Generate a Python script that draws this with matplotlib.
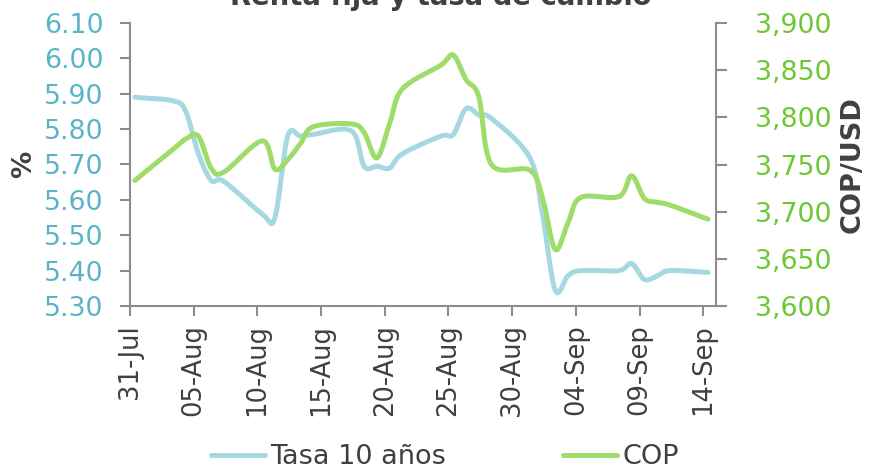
import numpy as np
import pandas as pd
import matplotlib
matplotlib.use("Agg")
import matplotlib.pyplot as plt
import matplotlib.dates as mdates
from matplotlib.ticker import StrMethodFormatter, FixedLocator

plt.rcParams['font.family'] = ['DejaVu Sans']

dates = ["2020-07-31", "2020-08-03", "2020-08-04", "2020-08-05", "2020-08-06", "2020-08-07",
         "2020-08-10", "2020-08-11", "2020-08-12", "2020-08-13", "2020-08-14",
         "2020-08-17", "2020-08-18", "2020-08-19", "2020-08-20", "2020-08-21",
         "2020-08-24", "2020-08-25", "2020-08-26", "2020-08-27", "2020-08-28",
         "2020-08-31", "2020-09-01", "2020-09-02", "2020-09-03", "2020-09-04",
         "2020-09-07", "2020-09-08", "2020-09-09", "2020-09-10", "2020-09-11",
         "2020-09-14"]

tasa_10 = [5.89, 5.88, 5.85, 5.73, 5.655, 5.652,
           5.56, 5.55, 5.78, 5.78, 5.785,
           5.795, 5.695, 5.695, 5.69, 5.73,
           5.78, 5.785, 5.858, 5.84, 5.83,
           5.72, 5.56, 5.345, 5.385, 5.40,
           5.40, 5.42, 5.375, 5.385, 5.40,
           5.395]

cop = [3733, 3766, 3777, 3780, 3746, 3742,
       3775, 3745, 3755, 3772, 3790,
       3793, 3784, 3757, 3793, 3830,
       3855, 3866, 3840, 3822, 3750,
       3744, 3715, 3660, 3688, 3715,
       3716, 3738, 3714, 3710, 3707,
       3692]

title = "Renta fija y tasa de cambio"
left_label = "%"
right_label = "COP/USD"
series_names = ["Tasa 10 años", "COP"]
left_ticks = [5.30, 5.40, 5.50, 5.60, 5.70, 5.80, 5.90, 6.00, 6.10]
right_ticks = [3600, 3650, 3700, 3750, 3800, 3850, 3900]

blue = '#a6d8e2'
green = '#a0dc6c'
blue_txt = '#5ab4c8'
green_txt = '#6cc734'
dark = '#404040'
axis_gray = '#8c8c8c'


def smooth(x, y, n=30):
    """Catmull-Rom rendering of the points (like Excel smoothed lines)."""
    x = np.asarray(x, float)
    y = np.asarray(y, float)
    px = np.concatenate([[2 * x[0] - x[1]], x, [2 * x[-1] - x[-2]]])
    py = np.concatenate([[2 * y[0] - y[1]], y, [2 * y[-1] - y[-2]]])
    xs, ys = [], []
    t = np.linspace(0, 1, n, endpoint=False)
    for i in range(1, len(px) - 2):
        for arr, out in ((px, xs), (py, ys)):
            p0, p1, p2, p3 = arr[i - 1], arr[i], arr[i + 1], arr[i + 2]
            out.append(0.5 * ((2 * p1) + (-p0 + p2) * t + (2 * p0 - 5 * p1 + 4 * p2 - p3) * t ** 2
                              + (-p0 + 3 * p1 - 3 * p2 + p3) * t ** 3))
    xs.append([x[-1]])
    ys.append([y[-1]])
    return np.concatenate(xs), np.concatenate(ys)


# observations are stamped during the trading day (not at midnight)
d = mdates.date2num(pd.to_datetime(dates) + pd.Timedelta(hours=9))

fig = plt.figure(figsize=(8.7, 4.7), dpi=100)
ax = fig.add_axes([130 / 870, 1 - 306 / 470, (716 - 130) / 870, (306 - 23) / 470])
ax2 = ax.twinx()

sx, sy = smooth(d, tasa_10)
l1, = ax.plot(sx, sy, color=blue, lw=3.6, solid_capstyle='round', label=series_names[0])
cx, cy = smooth(d, cop)
l2, = ax2.plot(cx, cy, color=green, lw=3.6, solid_capstyle='round', label=series_names[1])

ax.set_ylim(5.30, 6.10)
ax2.set_ylim(3600, 3900)
ax.set_yticks(left_ticks)
ax2.set_yticks(right_ticks)
ax.yaxis.set_major_formatter(StrMethodFormatter('{x:.2f}'))
ax2.yaxis.set_major_formatter(StrMethodFormatter('{x:,.0f}'))

x0 = mdates.date2num(pd.Timestamp("2020-07-31"))
x1 = mdates.date2num(pd.Timestamp("2020-09-15"))
ax.set_xlim(x0, x1)
xt = mdates.date2num(pd.date_range("2020-07-31", "2020-09-14", freq="5D"))
ax.xaxis.set_major_locator(FixedLocator(xt))
ax.xaxis.set_major_formatter(mdates.DateFormatter('%d-%b'))

for a in (ax, ax2):
    a.spines['top'].set_visible(False)
    for s in ('left', 'right', 'bottom'):
        a.spines[s].set_color(axis_gray)
        a.spines[s].set_linewidth(1.5)
ax.spines['right'].set_visible(False)
ax2.spines['left'].set_visible(False)
ax2.spines['bottom'].set_visible(False)

ax.tick_params(axis='y', colors=axis_gray, labelcolor=blue_txt, labelsize=19.3,
               length=7, width=1.5, direction='out', pad=12)
ax2.tick_params(axis='y', colors=axis_gray, labelcolor=green_txt, labelsize=19.3,
                length=8, width=1.5, direction='out', pad=20)
ax.tick_params(axis='x', colors=axis_gray, labelcolor=dark, labelsize=18.5,
               length=7, width=1.5, direction='out', pad=6, labelrotation=90)

ax.set_ylabel(left_label, fontsize=19.5, fontweight='bold', color=dark, labelpad=5)
ax2.set_ylabel(right_label, fontsize=19.5, fontweight='bold', color=dark, labelpad=6)

fig.text(441 / 870, 1 - 5 / 470, title, ha='center', va='baseline', fontsize=19.8,
         fontweight='bold', color=dark)

fig.legend(handles=[l1, l2], loc='center', bbox_to_anchor=(445 / 870, 1 - 457 / 470),
           ncol=2, frameon=False, fontsize=19.5, labelcolor=dark, handlelength=2.0,
           handletextpad=0.2, columnspacing=4.3)

fig.savefig("out.png", dpi=100)
